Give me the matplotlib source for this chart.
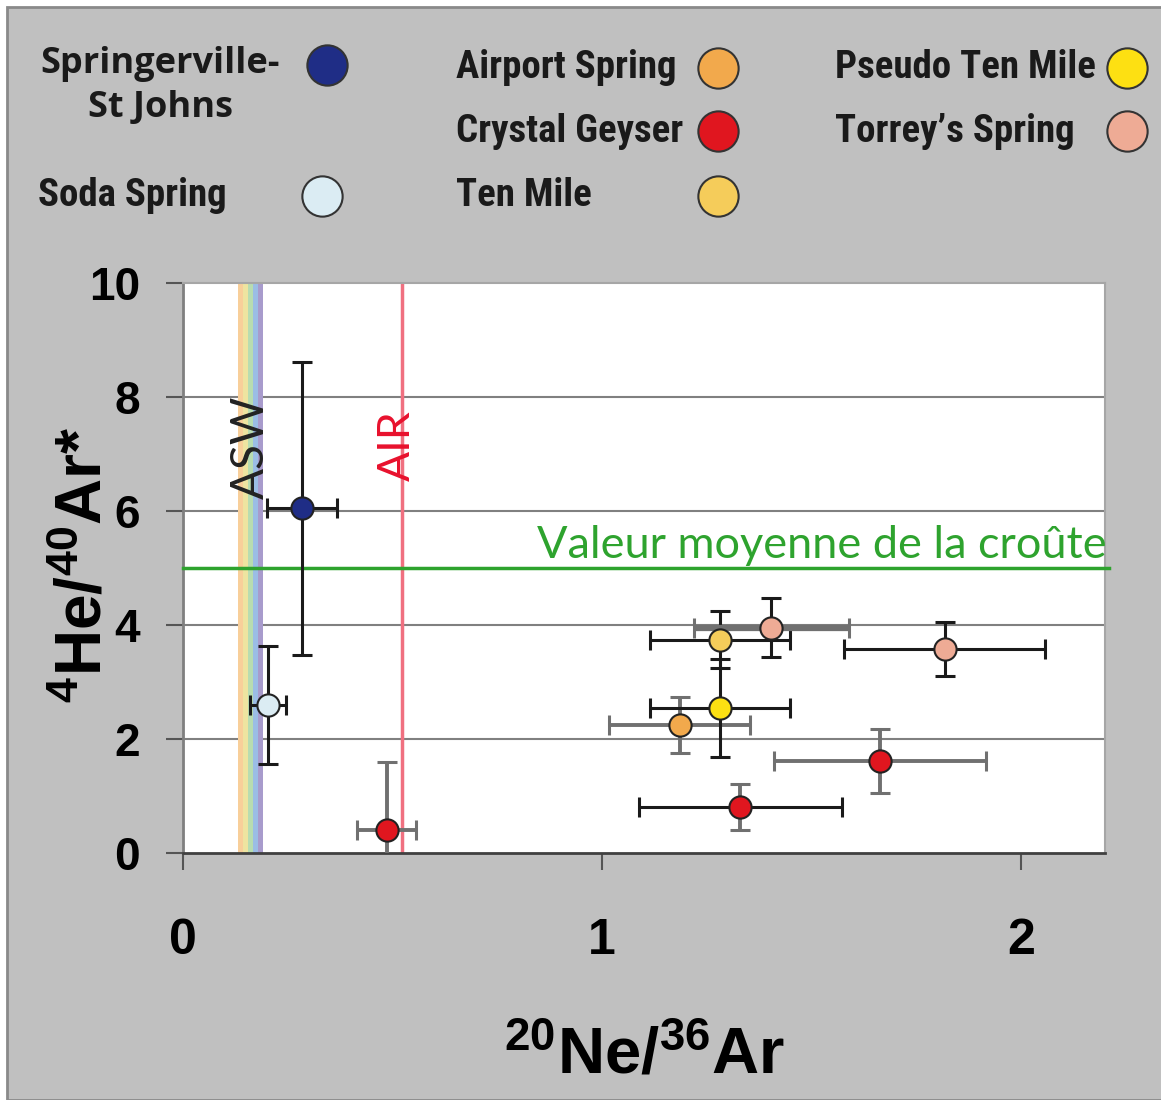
import numpy as np
import matplotlib
matplotlib.use('Agg')
import matplotlib.pyplot as plt
from matplotlib.lines import Line2D
from matplotlib.patches import Rectangle

plt.rcParams['font.family'] = ['Liberation Sans', 'DejaVu Sans']
plt.rcParams['mathtext.default'] = 'regular'

# points
site = ['Springerville', 'Soda Spring', 'Crystal Geyser', 'Crystal Geyser', 'Crystal Geyser',
        'Airport Spring', 'Pseudo Ten Mile', 'Ten Mile', "Torrey's Spring", "Torrey's Spring"]
ne_ar = [0.284, 0.203, 0.486, 1.330, 1.664, 1.185, 1.282, 1.282, 1.404, 1.818]
he_ar = [6.05, 2.60, 0.40, 0.81, 1.61, 2.25, 2.54, 3.74, 3.95, 3.58]
ne_err = [0.083, 0.042, 0.070, 0.242, 0.253, 0.168, 0.167, 0.167, 0.185, 0.240]
he_err = [2.57, 1.03, 1.20, 0.40, 0.56, 0.49, 0.86, 0.50, 0.52, 0.47]
xerr_dark = [True, True, False, True, False, False, True, True, False, True]
yerr_dark = [True, True, False, False, False, False, True, True, True, True]

colors = {'Springerville': '#1f2d86', 'Soda Spring': '#dbecf3', 'Airport Spring': '#f2a94c',
          'Crystal Geyser': '#e0161f', 'Ten Mile': '#f5cc5a', 'Pseudo Ten Mile': '#fde012',
          "Torrey's Spring": '#eeab95'}

asw_x = [0.131, 0.143, 0.155, 0.167, 0.179, 0.191]
asw_cols = ['#f8cf9a', '#eee4a0', '#b8dcb0', '#9bbde5', '#a89bcc']
air_x = 0.522
crust = 5.0

W, H = 1161, 1100
def fx(x):
    return x / W
def fy(y):
    return 1 - y / H

fig = plt.figure(figsize=(11.61, 11.0), dpi=100, facecolor='white')
fig.add_artist(Rectangle((fx(7), 0), 1.0, fy(7), transform=fig.transFigure,
                         facecolor='#c0c0c0', edgecolor='#8a8a8a', lw=2, zorder=-5))

ax = fig.add_axes([fx(183), fy(853), fx(1105) - fx(183), fy(283) - fy(853)])
ax.set_facecolor('white')
ax.set_xlim(0, 2.2)
ax.set_ylim(0, 10)
ax.set_xticks([0, 1, 2])
ax.set_yticks([0, 2, 4, 6, 8, 10])
ax.tick_params(axis='y', direction='out', length=12, width=1.5, color='#555555',
               pad=19, labelsize=33)
ax.tick_params(axis='x', direction='out', length=12, width=1.5, color='#555555',
               pad=35, labelsize=36)
for lab in ax.get_xticklabels() + ax.get_yticklabels():
    lab.set_fontweight('bold')
for g in [2, 4, 6, 8]:
    ax.axhline(g, color='#808080', lw=1.5, zorder=1)
ax.spines['left'].set_color('#7f7f7f')
ax.spines['left'].set_linewidth(2)
ax.spines['bottom'].set_color('#404040')
ax.spines['bottom'].set_linewidth(2)
for s in ['top', 'right']:
    ax.spines[s].set_color('#a6a6a6')
    ax.spines[s].set_linewidth(1.5)

# ASW band and AIR line
for i in range(len(asw_cols)):
    ax.axvspan(asw_x[i], asw_x[i + 1], color=asw_cols[i], lw=0, zorder=2)
ax.axvline(air_x, color='#f07080', lw=2.5, zorder=2)
ax.text(0.163, 7.12, 'ASW', rotation=90, ha='center', va='center', fontsize=33,
        color='#222222', family='Lato', zorder=3)
ax.text(0.512, 7.14, 'AIR', rotation=90, ha='center', va='center', fontsize=32,
        color='#e8112d', family='Lato', zorder=3)

# crust average
ax.plot([0, 2.21], [crust, crust], color='#2ea32e', lw=2.5, clip_on=False, zorder=3)
ax.text(2.205, crust + 0.04, 'Valeur moyenne de la croûte', ha='right', va='bottom',
        fontsize=32.5, color='#2ea32e', family='Lato', zorder=3)

# error bars then markers
for i in range(len(site)):
    xc = '#1a1a1a' if xerr_dark[i] else '#707070'
    yc = '#1a1a1a' if yerr_dark[i] else '#707070'
    xlw = 2.2 if xerr_dark[i] else 2.8
    if i == 8:
        xlw = 4.5
    ax.errorbar(ne_ar[i], he_ar[i], xerr=ne_err[i], fmt='none', ecolor=xc,
                elinewidth=xlw, capsize=7, capthick=2.2, zorder=4)
    ax.errorbar(ne_ar[i], he_ar[i], yerr=he_err[i], fmt='none', ecolor=yc,
                elinewidth=2.2 if yerr_dark[i] else 2.8, capsize=7, capthick=2.2,
                zorder=4)
for i in range(len(site)):
    ax.plot(ne_ar[i], he_ar[i], 'o', ms=16, mfc=colors[site[i]], mec='#222222',
            mew=1.5, zorder=5, clip_on=False)

fig.text(fx(645), fy(1056), r'$^{20}$Ne/$^{36}$Ar', ha='center', va='center',
         fontsize=47, fontweight='bold')
fig.text(fx(84), fy(565), r'$^{4}$He/$^{40}$Ar*', ha='center', va='center',
         fontsize=46, fontweight='bold', rotation=90)

# legend block
narrow = ['Roboto Condensed', 'Lato']
leg_names = ['Soda Spring', 'Airport Spring', 'Crystal Geyser', 'Ten Mile',
             'Pseudo Ten Mile', "Torrey's Spring"]
leg_text = ['Soda Spring', 'Airport Spring', 'Crystal Geyser', 'Ten Mile',
            'Pseudo Ten Mile', 'Torrey’s Spring']
leg_tx = [38, 456, 456, 456, 835, 835]
leg_y = [196, 68, 131, 196, 68, 131]
leg_mx = [322, 718, 718, 718, 1127, 1127]

fig.text(fx(160), fy(64), 'Springerville-', ha='center', va='center', fontsize=26,
         fontweight='bold', family='Open Sans', color='#1a1a1a')
fig.text(fx(160), fy(108), 'St Johns', ha='center', va='center', fontsize=26,
         fontweight='bold', family='Open Sans', color='#1a1a1a')
fig.add_artist(Line2D([fx(327)], [fy(65)], marker='o', ms=29, mfc=colors['Springerville'],
                      mec='#333333', mew=1.5, transform=fig.transFigure))
for i in range(len(leg_names)):
    fig.text(fx(leg_tx[i]), fy(leg_y[i]), leg_text[i], ha='left', va='center',
             fontsize=28, fontweight='bold', family=narrow, color='#1a1a1a')
    fig.add_artist(Line2D([fx(leg_mx[i])], [fy(leg_y[i])], marker='o', ms=29,
                          mfc=colors[leg_names[i]], mec='#333333', mew=1.5,
                          transform=fig.transFigure))

fig.savefig('out.png', dpi=100, facecolor='white')
